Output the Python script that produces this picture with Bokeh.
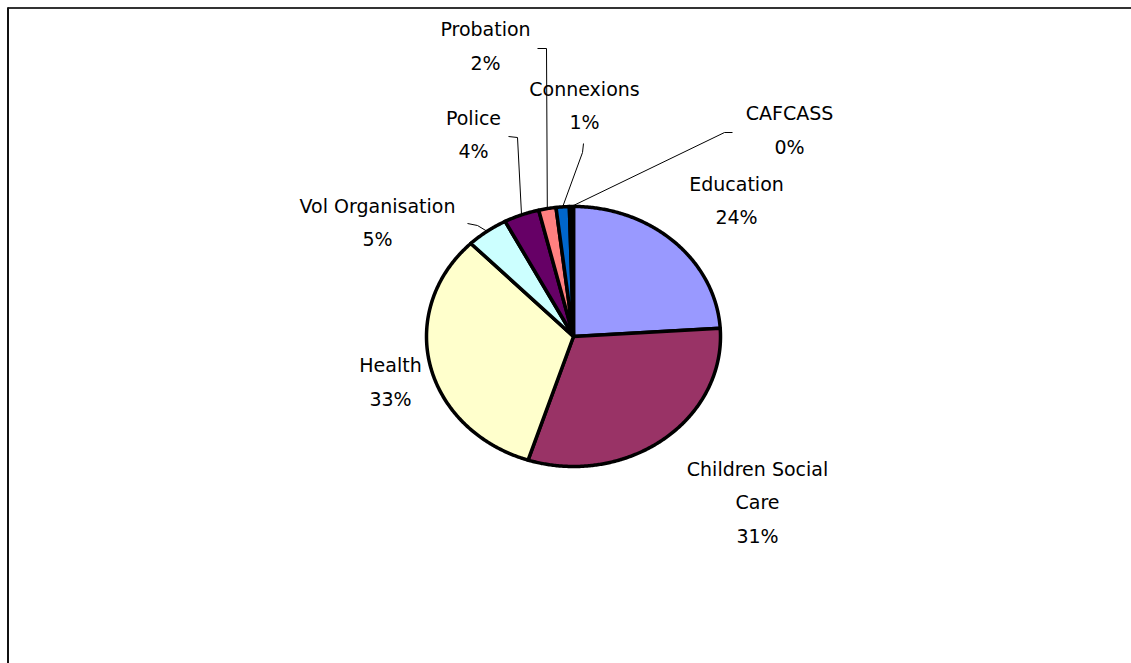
import math
from bokeh.plotting import figure
from bokeh.models import Range1d, ColumnDataSource
from bokeh.core.properties import value
from bokeh.embed import file_html
from bokeh.resources import INLINE

# ---- data ----
categories = ["Education", "Children Social Care", "Health", "Vol Organisation",
              "Police", "Probation", "Connexions", "CAFCASS"]
shares = [24.0, 31.0, 32.7, 4.6, 3.9, 1.9, 1.45, 0.45]
colors = ["#9999FF", "#993366", "#FFFFCC", "#CCFFFF",
          "#660066", "#FF8080", "#0066CC", "#000000"]

# ---- layout (page pixel coordinates) ----
W, H = 1131, 663
CX, CY, RX, RY = 573, 336, 147, 130
LINE_GAP = 33.5
FONT = "DejaVu Sans"
FONT_SIZE = "19px"
label_lines = {"Children Social Care": ["Children Social", "Care"]}
label_pos = {
    "Education": (736, 183),
    "Children Social Care": (757, 468),
    "Health": (390, 364.5),
    "Vol Organisation": (377, 205),
    "Police": (473, 117),
    "Probation": (485, 28.5),
    "Connexions": (584, 88),
    "CAFCASS": (789, 112.5),
}
leader_elbows = {
    "Probation": [(537, 48), (546, 48)],
    "Connexions": [(583, 143), (582, 152)],
    "Police": [(508, 136), (517, 137)],
    "CAFCASS": [(732, 132), (724, 132)],
    "Vol Organisation": [(467, 223), (477, 225)],
}

p = figure(width=W, height=H, output_backend="svg", toolbar_location=None,
           x_range=Range1d(0, W), y_range=Range1d(H, 0),
           x_axis_location=None, y_axis_location=None, min_border=0)
p.grid.visible = False
p.outline_line_color = None
p.background_fill_color = "white"
p.border_fill_color = "white"


def ell(theta_deg, k=1.0):
    t = math.radians(theta_deg)
    return CX + k * RX * math.sin(t), CY - k * RY * math.cos(t)


total = sum(shares)
xs, ys, mids = [], [], []
acc = 0.0
for s in shares:
    a0 = acc / total * 360.0
    a1 = (acc + s) / total * 360.0
    acc += s
    n = max(2, int((a1 - a0) / 0.5) + 1)
    px, py = [CX], [CY]
    for i in range(n + 1):
        x, y = ell(a0 + (a1 - a0) * i / n)
        px.append(x)
        py.append(y)
    xs.append(px)
    ys.append(py)
    mids.append((a0 + a1) / 2)

p.patches(xs="xs", ys="ys", fill_color="color", line_color="black",
          line_width=3.5, line_join="round",
          source=ColumnDataSource(dict(xs=xs, ys=ys, color=colors)))

# leader lines
lx, ly = [], []
for cat, mid in zip(categories, mids):
    if cat in leader_elbows:
        pts = list(leader_elbows[cat]) + [ell(mid)]
        lx.append([q[0] for q in pts])
        ly.append([q[1] for q in pts])
p.multi_line(xs=lx, ys=ly, line_color="black", line_width=1)

# labels
tx, ty, tt = [], [], []
for cat, s in zip(categories, shares):
    x0, y0 = label_pos[cat]
    lines = label_lines.get(cat, [cat]) + [f"{round(s)}%"]
    for i, line in enumerate(lines):
        tx.append(x0)
        ty.append(y0 + i * LINE_GAP)
        tt.append(line)
p.text(x=tx, y=ty, text=tt, text_align="center", text_baseline="middle",
       text_font=value(FONT), text_font_size=FONT_SIZE, text_color="black")

# chart frame (top and left edges visible in the window)
p.line(x=[7, W], y=[7.5, 7.5], line_color="#333333", line_width=2)
p.line(x=[7.5, 7.5], y=[7, H], line_color="#111111", line_width=2)

open("out.html", "w").write(file_html(p, INLINE))
